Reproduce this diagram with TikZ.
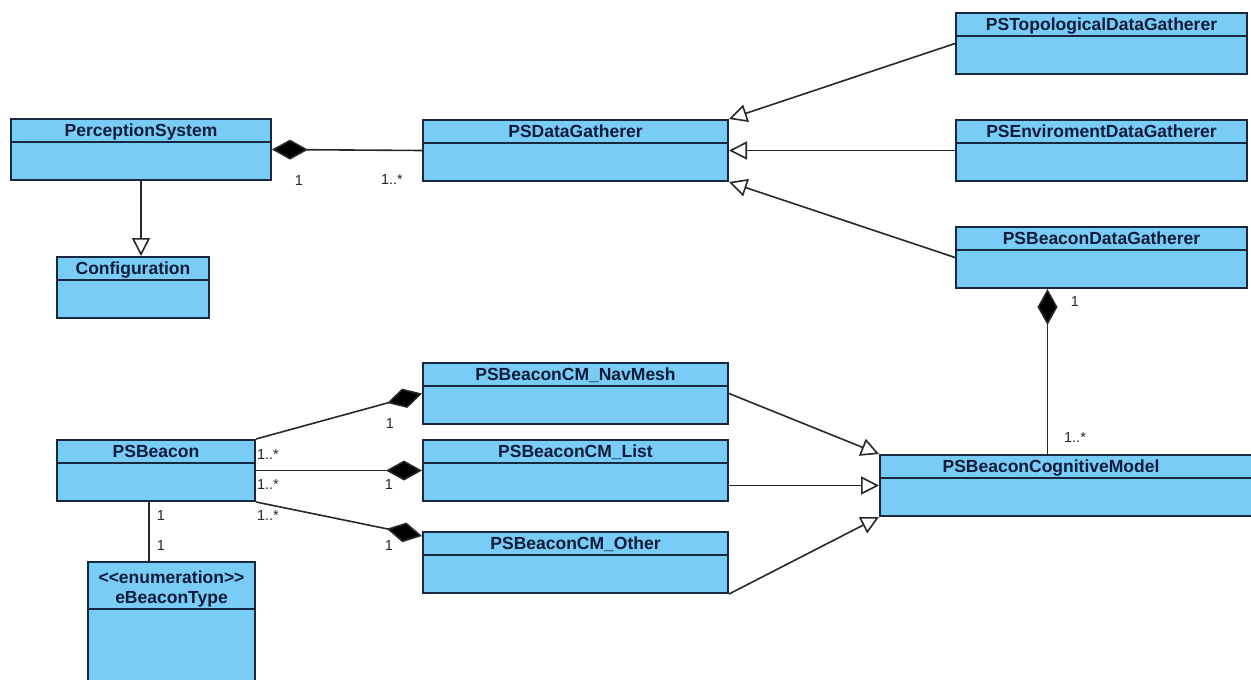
\documentclass[tikz,border=0pt]{standalone}
\usepackage{fontspec}
\setmainfont{Liberation Sans}
\usetikzlibrary{arrows.meta,positioning}

\definecolor{classfill}{RGB}{120,204,245}
\definecolor{classline}{RGB}{24,40,62}
\definecolor{classtext}{RGB}{14,28,58}
\definecolor{assocline}{RGB}{40,40,40}

\tikzset{
  umlclass/.style={draw=classline, fill=classfill, line width=2pt, anchor=north west,
    inner sep=0pt, font=\fontsize{17.5}{20}\selectfont\bfseries, text=classtext,
    text height=17.5pt, text depth=43.5pt,
    path picture={\draw[classline, line width=2pt]
      ([yshift=-#1]path picture bounding box.north west) --
      ([yshift=-#1]path picture bounding box.north east);}},
  umlclass/.default=23pt,
  mult/.style={font=\fontsize{14.5}{16}\selectfont, text=assocline, inner sep=0pt},
  conn/.style={draw=assocline, line width=1.6pt},
  inherit/.style={conn, -{Triangle[length=18pt, width=18pt, fill=white]}},
  compose/.style={conn, {Diamond[length=36pt, width=20pt, fill=black]}-}
}

\begin{document}
\begin{tikzpicture}[x=1pt, y=-1pt]
    \useasboundingbox (0,0) rectangle (1251,680);
    \fill[white] (0,0) rectangle (1251,680);
    \clip (0,0) rectangle (1251,680);

    % classes
    \node[umlclass, minimum width=260pt] (PerceptionSystem) at (10,118) {PerceptionSystem};
    \node[umlclass, minimum width=152pt] (Configuration) at (56,256) {Configuration};
    \node[umlclass, minimum width=305pt] (PSDataGatherer) at (422,119) {PSDataGatherer};
    \node[umlclass, minimum width=291pt] (PSTopological) at (955,12) {PSTopologicalDataGatherer};
    \node[umlclass, minimum width=291pt] (PSEnviroment) at (955,119) {PSEnviromentDataGatherer};
    \node[umlclass, minimum width=291pt] (PSBeaconDG) at (955,226) {PSBeaconDataGatherer};
    \node[umlclass, minimum width=305pt] (NavMesh) at (422,362) {PSBeaconCM\_NavMesh};
    \node[umlclass, minimum width=305pt] (CMList) at (422,439) {PSBeaconCM\_List};
    \node[umlclass, minimum width=305pt] (CMOther) at (422,531) {PSBeaconCM\_Other};
    \node[umlclass, minimum width=198pt] (PSBeacon) at (56,439) {PSBeacon};
    \node[umlclass=47pt, minimum width=167pt, align=center, text height=41pt, text depth=119pt]
        (eBeaconType) at (87,561) {<\kern0pt<enumeration>\kern0pt>\\eBeaconType};
    \node[umlclass, minimum width=376pt] (CogModel) at (879,454) {PSBeaconCognitiveModel\hspace*{34pt}};

    % generalizations
    \draw[inherit] (PerceptionSystem.south) -- (PerceptionSystem.south |- Configuration.north);
    \draw[inherit] (PSTopological.west) -- (PSDataGatherer.north east);
    \draw[inherit] (PSEnviroment.west) -- (PSDataGatherer.east);
    \draw[inherit] (PSBeaconDG.west) -- (PSDataGatherer.south east);
    \draw[inherit] (NavMesh.east) -- (CogModel.north west);
    \draw[inherit] (CMList.east |- CogModel.west) -- (CogModel.west);
    \draw[inherit] (CMOther.south east) -- (CogModel.south west);

    % compositions
    \draw[compose] (PerceptionSystem.east) -- (PSDataGatherer.west);
    \draw[compose] (NavMesh.west) -- (PSBeacon.north east);
    \draw[compose] (CMList.west) -- (PSBeacon.east);
    \draw[compose] ([yshift=-5pt]CMOther.north west) -- (PSBeacon.south east);
    \coordinate (dgfoot) at ([xshift=-54pt]PSBeaconDG.south);
    \draw[compose] (dgfoot) -- (dgfoot |- CogModel.north);

    % association
    \coordinate (bfoot) at ([xshift=-7pt]PSBeacon.south);
    \draw[conn] (bfoot) -- (bfoot |- eBeaconType.north);

    % multiplicities
    \node[mult] (mPS) at (299,181) {1};
    \node[mult] (mDG) at (392,180) {1..*};
    \node[mult] (mNav) at (390,424) {1};
    \node[mult] (mList) at (389,485) {1};
    \node[mult] (mOther) at (389,546) {1};
    \node[mult] (mB1) at (268,455) {1..*};
    \node[mult] (mB2) at (268,485) {1..*};
    \node[mult] (mB3) at (268,516) {1..*};
    \node[mult] (mE1) at (161,516) {1};
    \node[mult] (mE2) at (161,546) {1};
    \node[mult] (mBDG) at (1075,302) {1};
    \node[mult] (mCog) at (1075,438) {1..*};

\end{tikzpicture}
\end{document}
